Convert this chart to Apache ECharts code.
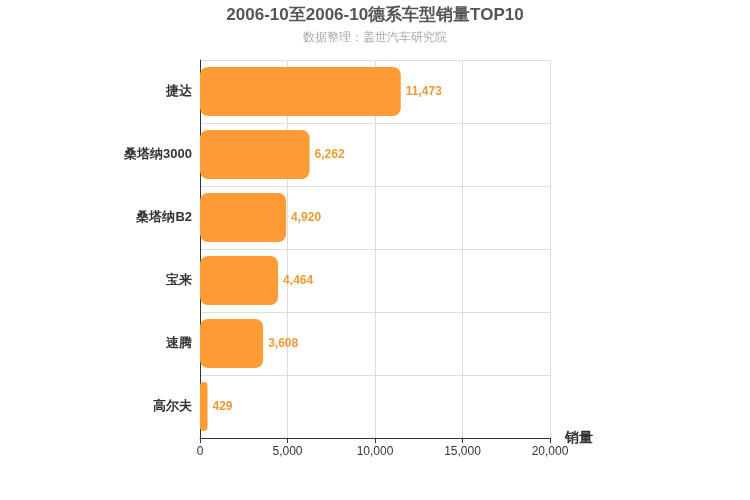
<!DOCTYPE html>
<html>
<head>
<meta charset="utf-8">
<script src="https://cdn.jsdelivr.net/npm/echarts@6/dist/echarts.min.js"></script>
</head>
<body style="margin:0">
<div id="chart" style="width:750px;height:500px"></div>
<script>
var categories = ['捷达', '桑塔纳3000', '桑塔纳B2', '宝来', '速腾', '高尔夫'];
var sales = [11473, 6262, 4920, 4464, 3608, 429];
var xTicks = [0, 5000, 10000, 15000, 20000];

var myChart = echarts.init(document.getElementById('chart'));
var option = {
    title: {
        text: '2006-10至2006-10德系车型销量TOP10',
        subtext: '数据整理：盖世汽车研究院',
        left: 'center',
        top: 2,
        itemGap: 8,
        textStyle: { fontSize: 17, fontWeight: 'bold', color: '#555', fontFamily: 'Liberation Sans' },
        subtextStyle: { fontSize: 12, color: '#aaa' }
    },
    grid: { left: 200, right: 200, top: 60, bottom: 62 },
    xAxis: {
        type: 'value',
        min: xTicks[0],
        max: xTicks[xTicks.length - 1],
        interval: 5000,
        name: '销量',
        nameTextStyle: { fontSize: 14, fontWeight: 'bold', color: '#333', padding: [20, 0, 0, 0] },
        axisLine: { show: true, lineStyle: { color: '#333' } },
        axisTick: { show: true },
        axisLabel: { color: '#333', fontSize: 12 },
        splitLine: { lineStyle: { color: '#ddd' } }
    },
    yAxis: {
        type: 'category',
        inverse: true,
        data: categories,
        axisLine: { lineStyle: { color: '#333' } },
        axisLabel: { color: '#333', fontSize: 13, fontWeight: 'bold' },
        splitLine: { show: true, lineStyle: { color: '#ddd' } }
    },
    series: [{
        type: 'bar',
        data: sales,
        barWidth: '78%',
        itemStyle: { color: '#ff9c35', borderRadius: 8 },
        label: {
            show: true,
            position: 'right',
            color: '#f09a35',
            fontWeight: 'bold',
            fontSize: 12,
            formatter: function (p) { return p.value.toLocaleString('en-US'); }
        }
    }]
};
myChart.setOption(option);
</script>
</body>
</html>
